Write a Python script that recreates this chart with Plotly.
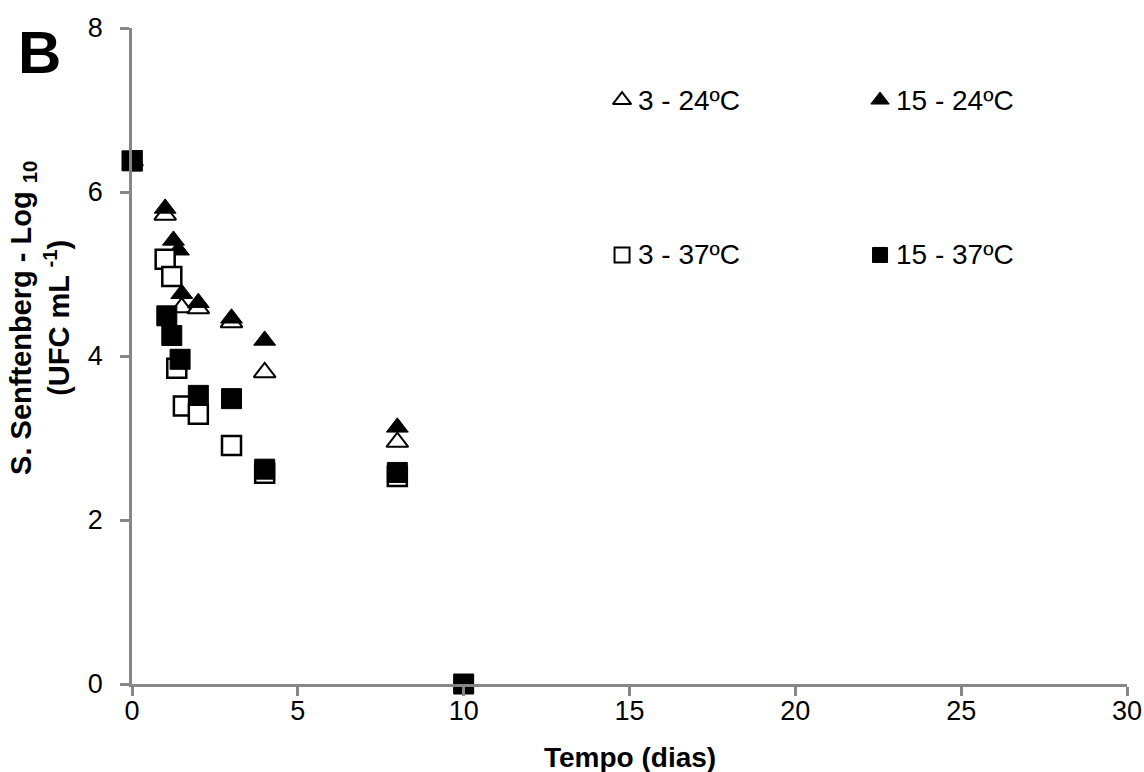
import plotly.graph_objects as go

# ---- data (time in days, S. Senftenberg log10 UFC/mL) ----
t_3_24 = [0, 1, 1.5, 2, 3, 4, 8]
y_3_24 = [6.38, 5.72, 4.59, 4.58, 4.41, 3.80, 2.95]

t_15_24 = [0, 1, 1.25, 1.4, 1.5, 2, 3, 4, 8]
y_15_24 = [6.38, 5.80, 5.41, 5.29, 4.76, 4.65, 4.46, 4.19, 3.13]

t_3_37 = [0, 1, 1.2, 1.35, 1.55, 2, 3, 4, 8]
y_3_37 = [6.38, 5.18, 4.97, 3.85, 3.39, 3.29, 2.91, 2.57, 2.53]

t_15_37 = [0, 1.05, 1.2, 1.45, 2, 3, 4, 8, 10]
y_15_37 = [6.38, 4.49, 4.25, 3.96, 3.52, 3.48, 2.62, 2.58, 0]

labels = ["3 - 24ºC", "15 - 24ºC", "3 - 37ºC", "15 - 37ºC"]
x_ticks = [0, 5, 10, 15, 20, 25, 30]
y_ticks = [0, 2, 4, 6, 8]

FONT = "Liberation Sans, Arial, sans-serif"
AXIS_GRAY = "#868686"

fig = go.Figure()

open_tri = dict(symbol="triangle-up", size=19, color="white", line=dict(color="black", width=2))
fill_tri = dict(symbol="triangle-up", size=19, color="black", line=dict(color="black", width=1))
open_sq = dict(symbol="square", size=19, color="white", line=dict(color="black", width=2.5))
fill_sq = dict(symbol="square", size=20, color="black", line=dict(color="black", width=1))

fig.add_trace(go.Scatter(x=t_3_24, y=y_3_24, mode="markers", marker=open_tri, name=labels[0], showlegend=False))
fig.add_trace(go.Scatter(x=t_15_24, y=y_15_24, mode="markers", marker=fill_tri, name=labels[1], showlegend=False))
fig.add_trace(go.Scatter(x=t_3_37, y=y_3_37, mode="markers", marker=open_sq, name=labels[2], showlegend=False))
fig.add_trace(go.Scatter(x=t_15_37, y=y_15_37, mode="markers", marker=fill_sq, name=labels[3], showlegend=False, cliponaxis=False))

# ---- legend keys on an invisible overlay axis (0..1 = plot area) ----
leg_x = [0.4925, 0.7518, 0.4925, 0.7518]
leg_y = [0.8902, 0.8902, 0.654, 0.654]
leg_markers = [
    dict(symbol="triangle-up", size=16, color="white", line=dict(color="black", width=2)),
    dict(symbol="triangle-up", size=16, color="black", line=dict(color="black", width=1)),
    dict(symbol="square", size=15, color="white", line=dict(color="black", width=2)),
    dict(symbol="square", size=15, color="black", line=dict(color="black", width=1)),
]
for i in range(4):
    fig.add_trace(go.Scatter(x=[leg_x[i]], y=[leg_y[i]], mode="markers", marker=leg_markers[i],
                             xaxis="x2", yaxis="y2", showlegend=False, hoverinfo="skip"))
    fig.add_annotation(x=leg_x[i] + 0.0145, y=leg_y[i], xref="x2", yref="y2", text=labels[i],
                       showarrow=False, xanchor="left", yanchor="middle",
                       font=dict(family=FONT, size=28, color="black"))

fig.update_layout(
    width=1144, height=772,
    margin=dict(l=132, r=17, t=28, b=88),
    paper_bgcolor="white", plot_bgcolor="white",
    font=dict(family=FONT, color="black"),
    showlegend=False,
    xaxis=dict(range=[0, 30], tickvals=x_ticks, ticktext=[str(v) for v in x_ticks],
               showgrid=False, zeroline=False, showline=True, linecolor=AXIS_GRAY, linewidth=3,
               ticks="outside", ticklen=9, tickwidth=2.5, tickcolor=AXIS_GRAY, automargin=False,
               tickfont=dict(family=FONT, size=27, color="black"), ticklabelstandoff=-8),
    yaxis=dict(range=[0, 8], tickvals=y_ticks, ticktext=[str(v) for v in y_ticks],
               showgrid=False, zeroline=False, showline=True, linecolor=AXIS_GRAY, linewidth=2.5,
               ticks="outside", ticklen=9, tickwidth=2.5, tickcolor=AXIS_GRAY, automargin=False,
               tickfont=dict(family=FONT, size=27, color="black"), ticklabelstandoff=12),
    xaxis2=dict(overlaying="x", range=[0, 1], visible=False),
    yaxis2=dict(overlaying="y", range=[0, 1], visible=False),
)

# axis titles and panel letter
fig.add_annotation(x=0.5, y=-0.1128, xref="paper", yref="paper", text="<b>Tempo (dias)</b>",
                   showarrow=False, xanchor="center", yanchor="middle",
                   font=dict(family=FONT, size=28, color="black"))
fig.add_annotation(x=-0.0925, y=0.558, xref="paper", yref="paper",
                   text="<b>S. Senftenberg - Log <sub>10</sub><br>(UFC mL <sup>-1</sup>)</b>",
                   showarrow=False, textangle=-90, xanchor="center", yanchor="middle",
                   font=dict(family=FONT, size=29, color="black"))
fig.add_annotation(x=-0.0925, y=0.963, xref="paper", yref="paper", text="<b>B</b>",
                   showarrow=False, xanchor="center", yanchor="middle",
                   font=dict(family=FONT, size=60, color="black"))

fig.write_html("out.html")
